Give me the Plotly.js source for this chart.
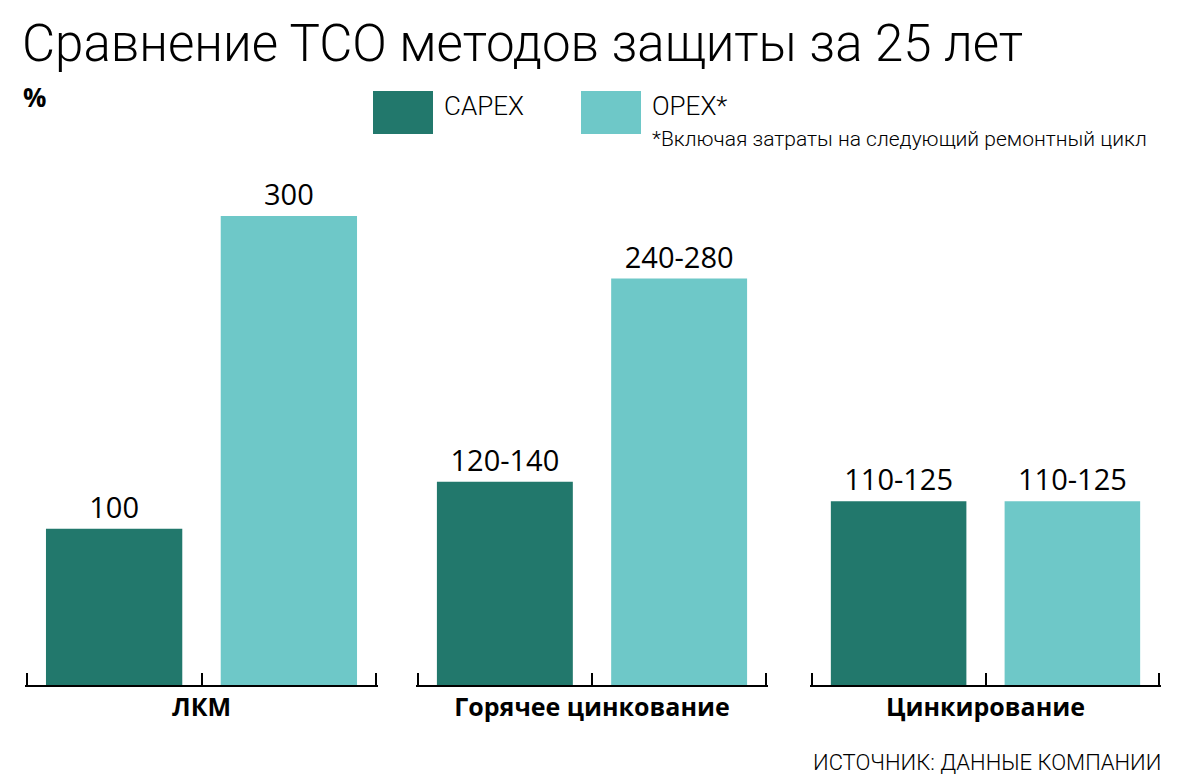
<!DOCTYPE html>
<html>
<head>
<meta charset="utf-8">
<script src="https://cdn.plot.ly/plotly-3.0.1.min.js"></script>
<style>
  body { margin: 0; background: #fff; }
  #chart { width: 1186px; height: 784px; }
</style>
</head>
<body>
<div id="chart"></div>
<script>
var groups = ['ЛКМ', 'Горячее цинкование', 'Цинкирование'];
var seriesNames = ['CAPEX', 'OPEX*'];
var capexValues = [100, 130, 117.5];
var opexValues = [300, 260, 117.5];
var capexLabels = ['100', '120-140', '110-125'];
var opexLabels = ['300', '240-280', '110-125'];

var capexColor = '#22786C';
var opexColor = '#6EC8C8';

var W = 1186, H = 784;
var marginTop = 160, marginBottom = 99;
var plotH = H - marginTop - marginBottom;
var plotBottom = H - marginBottom;

// pixel -> paper helpers for the decorations
function px(x) { return x / W; }
function py(y) { return (plotBottom - y) / plotH; }

var domains = [[25, 378], [416, 768], [810, 1161]];
var lightFamily = 'Roboto, Open Sans, sans-serif';

var data = [];
var layout = {
  width: W,
  height: H,
  margin: {l: 0, r: 0, t: marginTop, b: marginBottom},
  paper_bgcolor: '#fff',
  plot_bgcolor: '#fff',
  showlegend: false,
  bargap: 0.22,
  font: {family: 'Open Sans, sans-serif', color: '#000'},
  title: {
    text: 'Сравнение ТСО методов защиты за 25 лет',
    x: 22 / W,
    xanchor: 'left',
    xref: 'paper',
    yref: 'container',
    y: 1 - 43 / H,
    yanchor: 'middle',
    font: {family: lightFamily, size: 51, weight: 300, color: '#000'}
  },
  yaxis: {
    range: [0, 335.8],
    visible: false,
    fixedrange: true
  },
  shapes: [],
  annotations: []
};

groups.forEach(function (g, i) {
  var axName = i === 0 ? 'x' : 'x' + (i + 1);
  data.push({
    type: 'bar',
    x: ['CAPEX', 'OPEX'],
    y: [capexValues[i], opexValues[i]],
    xaxis: axName,
    yaxis: 'y',
    marker: {color: [capexColor, opexColor]},
    text: [capexLabels[i], opexLabels[i]],
    textposition: 'outside',
    textfont: {family: 'Open Sans, sans-serif', size: 29, color: '#000'},
    cliponaxis: false,
    hoverinfo: 'skip'
  });
  layout['xaxis' + (i === 0 ? '' : i + 1)] = {
    domain: [px(domains[i][0]), px(domains[i][1])],
    anchor: 'y',
    type: 'category',
    range: [-0.51, 1.51],
    showline: true,
    linecolor: '#000',
    linewidth: 2,
    ticks: 'inside',
    tickson: 'boundaries',
    ticklen: 12,
    tickwidth: 2,
    tickcolor: '#000',
    showticklabels: false,
    showgrid: false,
    zeroline: false,
    fixedrange: true,
    title: {
      text: g,
      standoff: 12,
      font: {family: 'Open Sans, sans-serif', size: 25, weight: 'bold', color: '#000'}
    }
  };
});

// legend squares
var legendBoxes = [[373, 433, capexColor], [581, 641, opexColor]];
legendBoxes.forEach(function (b) {
  layout.shapes.push({
    type: 'rect', xref: 'paper', yref: 'paper',
    x0: px(b[0]), x1: px(b[1]), y0: py(134), y1: py(91),
    fillcolor: b[2], line: {width: 0}
  });
});

function note(text, x, y, size, anchor, weight, family) {
  layout.annotations.push({
    text: text, xref: 'paper', yref: 'paper',
    x: px(x), y: py(y), xanchor: anchor, yanchor: 'middle',
    showarrow: false,
    font: {family: family || lightFamily, size: size, weight: weight || 300, color: '#000'}
  });
}
note(seriesNames[0], 442, 106, 26, 'left');
note(seriesNames[1], 650, 106, 26, 'left');
note('*Включая затраты на следующий ремонтный цикл', 650, 139, 21, 'left');
note('%', 21, 97, 26, 'left', 'bold', 'Open Sans, sans-serif');
note('ИСТОЧНИК: ДАННЫЕ КОМПАНИИ', 1163, 762, 22, 'right');

Plotly.newPlot('chart', data, layout, {displayModeBar: false, responsive: false});
</script>
</body>
</html>
